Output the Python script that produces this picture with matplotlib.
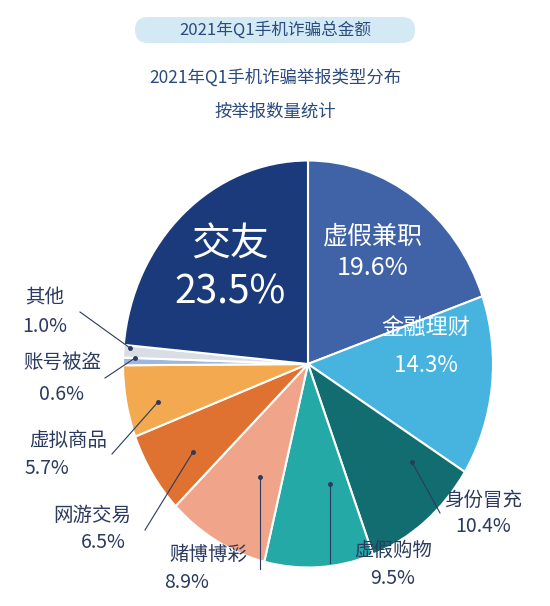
import matplotlib.pyplot as plt
from matplotlib.patches import FancyBboxPatch
from matplotlib.transforms import Affine2D

plt.rcParams['font.family'] = ['Noto Sans CJK SC', 'DejaVu Sans']

labels = ['虚假兼职', '金融理财', '身份冒充', '虚假购物', '赌博博彩',
          '网游交易', '虚拟商品', '账号被盗', '其他', '交友']
values = [19.6, 14.3, 10.4, 9.5, 8.9, 6.5, 5.7, 0.6, 1.0, 23.5]
colors = ['#3f63a6', '#47b3df', '#126d70', '#24a9a7', '#f0a58a',
          '#df7231', '#f2a94f', '#9fb7e0', '#d9dde4', '#1b3a7b']

W, H = 550, 606
cx, cy, R = 308, 606 - 364, 185
yscale = 1.1  # the reference pie is stretched vertically

fig = plt.figure(figsize=(5.5, 6.06), dpi=100)
ax = fig.add_axes([0, 0, 1, 1])

wedges, _ = ax.pie(values, colors=colors, startangle=90, counterclock=False,
                   center=(cx, cy), radius=R,
                   wedgeprops=dict(edgecolor='white', linewidth=1.5))
stretch = Affine2D().translate(-cx, -cy).scale(1, yscale).translate(cx, cy)
for w in wedges:
    w.set_transform(stretch + ax.transData)
ax.set_xlim(0, W)
ax.set_ylim(0, H)
ax.set_aspect('equal')
ax.axis('off')

# title banner
ax.add_patch(FancyBboxPatch((135, H - 43), 280, 26, boxstyle='round,pad=0,rounding_size=13',
                            fc='#d3e9f3', ec='none'))
ax.text(275, H - 30, '2021年Q1手机诈骗总金额', ha='center', va='center',
        fontsize=12, color='#2b4a7e')
ax.text(275, H - 78, '2021年Q1手机诈骗举报类型分布', ha='center', va='center',
        fontsize=12.5, color='#2b4a7e')
ax.text(275, H - 112, '按举报数量统计', ha='center', va='center',
        fontsize=12.5, color='#2b4a7e')

inner = {
    '交友': ((230, 245), (230, 292), 28),
    '虚假兼职': ((373, 237), (373, 268), 18),
    '金融理财': ((426, 327), (426, 366), 16),
}
for name, (p1, p2, fs) in inner.items():
    i = labels.index(name)
    ax.text(p1[0], H - p1[1], name, ha='center', va='center', color='white', fontsize=fs)
    ax.text(p2[0], H - p2[1], f'{values[i]}%', ha='center', va='center',
            color='white', fontsize=fs)

outer = {
    '其他': ((45, 298), (45, 326), [(80, 312), (130, 348)]),
    '账号被盗': ((62, 362), (62, 394), [(105, 378), (135, 358)]),
    '虚拟商品': ((68, 440), (47, 469), [(112, 454), (158, 402)]),
    '网游交易': ((92, 515), (103, 543), [(145, 530), (193, 452)]),
    '赌博博彩': ((208, 554), (187, 583), [(260, 569), (260, 477)]),
    '虚假购物': ((393, 550), (393, 578), [(330, 563), (330, 484)]),
    '身份冒充': ((483, 500), (483, 527), [(440, 513), (412, 462)]),
}
for name, (p1, p2, pts) in outer.items():
    i = labels.index(name)
    ax.text(p1[0], H - p1[1], name, ha='center', va='center', color='#2b3a5e', fontsize=14)
    ax.text(p2[0], H - p2[1], f'{values[i]}%', ha='center', va='center',
            color='#2b3a5e', fontsize=14)
    xs = [p[0] for p in pts]
    ys = [H - p[1] for p in pts]
    ax.plot(xs, ys, color='#2b3a5e', lw=0.8)
    ax.plot(xs[-1], ys[-1], 'o', color='#2b3a5e', ms=2.5)

fig.savefig('out.png', dpi=100)
